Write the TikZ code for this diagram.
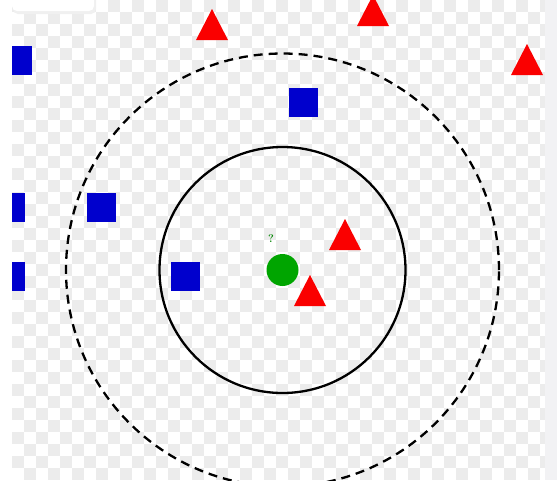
\documentclass[tikz,border=0pt]{standalone}
\usepackage{tikz}
\usetikzlibrary{shapes.geometric}
\definecolor{myblue}{RGB}{0,0,205}
\definecolor{myred}{RGB}{250,0,0}
\definecolor{mygreen}{RGB}{0,165,0}
\definecolor{mychecker}{RGB}{236,236,236}
\definecolor{myedge}{RGB}{242,242,244}
\tikzset{
  sqpt/.style={rectangle, fill=myblue, minimum size=29pt, inner sep=0pt},
  tript/.style={fill=myred},
  query/.style={circle, fill=mygreen, minimum size=32pt, inner sep=0pt},
  ring/.style={line width=2.3pt, color=black},
  farring/.style={ring, dash pattern=on 9pt off 6pt}
}

\begin{document}
\begin{tikzpicture}[x=1pt, y=-1pt]
  \useasboundingbox (0,0) rectangle (557,480);
  \clip (0,0) rectangle (557,480);

  % Checkered background
  \fill[white] (0,0) rectangle (557,480);
  \foreach \j in {0,...,39} {
    \pgfmathsetmacro\off{mod(\j,2)*12}
    \foreach \i in {0,24,...,528}
      \fill[mychecker] (12+\i+\off,\j*12) rectangle ++(12,12);
  }

  % Blue class (squares)
  \node[sqpt] (s1) at (17.5,60.5) {};
  \node[sqpt] (s2) at (10.5,207) {};
  \node[sqpt] (s3) at (10.5,276.5) {};
  \node[sqpt] (s4) at (101,207) {};
  \node[sqpt] (s5) at (185,276.5) {};
  \node[sqpt] (s6) at (303.5,102.5) {};

  % Red class (triangles), given by apex
  \foreach \ax/\ay/\nm in {212/9/t1, 373/-5/t2, 527/44/t3, 345/219/t4, 310/275/t5}
    \fill[tript] (\ax,\ay) coordinate (\nm) -- ++(16,31) -- ++(-32,0) -- cycle;

  % Query point and the two neighbourhoods
  \node[query] (q) at (282.5,270) {};
  \node[font=\fontsize{11}{11}\selectfont\bfseries, text=mygreen!80!black] (qmark) at (271,239) {?};
  \draw[ring] (q.center) circle (123pt);
  \draw[farring] (q.center) circle (216.5pt);

  % Page edges
  \fill[white] (0,0) rectangle (12,480);
  \fill[myedge] (545,0) rectangle (557,480);
  \fill[gray!12, rounded corners=5pt] (13,-8) rectangle (96,14);
  \fill[white, rounded corners=5pt] (12,-8) rectangle (94,11);
\end{tikzpicture}
\end{document}
